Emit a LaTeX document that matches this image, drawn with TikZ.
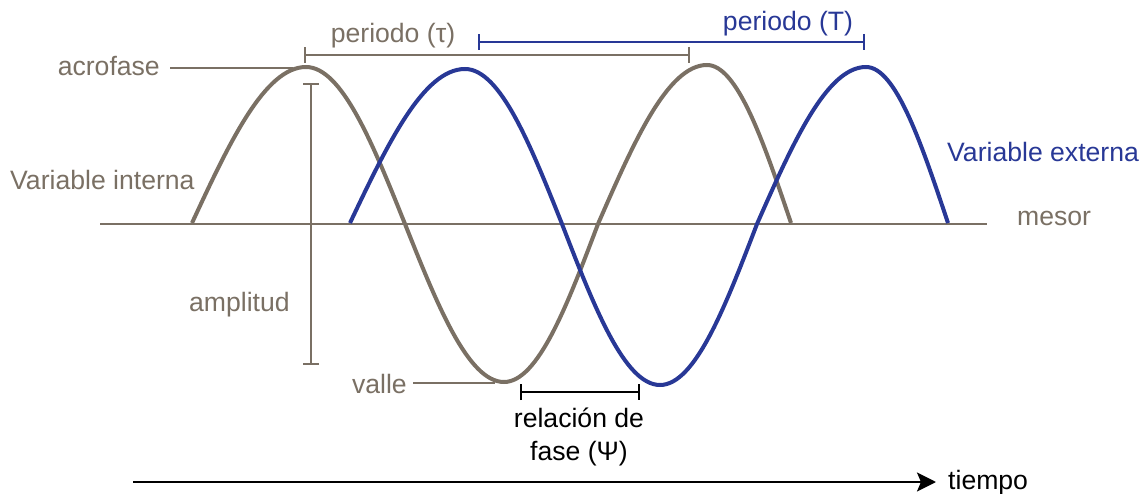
\documentclass[tikz,border=0pt]{standalone}
\usepackage{fontspec}
\setmainfont{Liberation Sans}
\usetikzlibrary{arrows.meta}
\definecolor{brn}{RGB}{122,112,100}
\definecolor{blu}{RGB}{40,56,150}
\begin{document}
\begin{tikzpicture}[x=1pt,y=-1pt,
  lbl/.style={inner sep=0pt, font=\fontsize{26.6}{30}\selectfont},
  wave/.style={line width=4pt},
  thin/.style={line width=2pt},
  brk/.style={line width=2pt, {Bar[width=16pt,line width=2pt]}-{Bar[width=16pt,line width=2pt]}}]
\useasboundingbox (0,0) rectangle (1146,494);
% mesor line
\coordinate (m0) at (100,224);
\coordinate (m1) at (987,224);
\draw[thin,brn] (m0) -- (m1);
% internal variable curve
\coordinate (b0) at (192,223);
\coordinate (b1) at (306,67);
\coordinate (b2) at (405,224);
\coordinate (b3) at (504,382);
\coordinate (b4) at (598,224);
\coordinate (b5) at (707,65);
\coordinate (b6) at (791,223);
% external variable curve
\coordinate (u0) at (350,223);
\coordinate (u1) at (465,69);
\coordinate (u2) at (562,224);
\coordinate (u3) at (660,385);
\coordinate (u4) at (757,224);
\coordinate (u5) at (866,67);
\coordinate (u6) at (948,223);
\draw[wave,brn] (b0) sin (b1) cos (b2) sin (b3) cos (b4) sin (b5) cos (b6);
\draw[wave,blu] (u0) sin (u1) cos (u2) sin (u3) cos (u4) sin (u5) cos (u6);
% labels
\node[lbl,brn,anchor=mid east] (acro) at (160,73) {acrofase};
\node[lbl,brn,anchor=mid west] (vint) at (10,187) {Variable interna};
\node[lbl,blu,anchor=mid west] (vext) at (947,159) {Variable externa};
\node[lbl,brn,anchor=mid west] (mesor) at (1017,223) {mesor};
\node[lbl,brn,anchor=mid west] (ampl) at (189,309) {amplitud};
\node[lbl,brn,anchor=mid east] (valle) at (407,391) {valle};
\node[lbl,brn,anchor=mid] (ptau) at (393,40) {periodo (τ)};
\node[lbl,blu,anchor=mid] (pT) at (788,28) {periodo (T)};
\node[lbl,anchor=mid] (rel1) at (579,425) {relación de};
\node[lbl,anchor=mid] (rel2) at (579,458) {fase (Ψ)};
\node[lbl,anchor=mid west] (tiempo) at (948,487) {tiempo};
% leaders
\coordinate (acroEnd) at (293,68);
\draw[thin,brn] (acro.east |- acroEnd) ++(10,0) -- (acroEnd);
\coordinate (valleEnd) at (495,383);
\draw[thin,brn] (valle.east |- valleEnd) ++(6,0) -- (valleEnd);
% amplitude bar
\coordinate (a0) at (311,83);
\coordinate (a1) at (311,365);
\draw[brk,brn] (a0) -- (a1);
% period brackets
\coordinate (t0) at (304,55);
\coordinate (t1) at (690,55);
\draw[brk,brn] (t0) -- (t1);
\coordinate (T0) at (478,42);
\coordinate (T1) at (865,42);
\draw[brk,blu] (T0) -- (T1);
% phase bracket
\coordinate (p0) at (520,392);
\coordinate (p1) at (640,392);
\draw[brk,black] (p0) -- (p1);
% time arrow
\coordinate (ta) at (133,482);
\coordinate (tb) at (936,482);
\draw[line width=2.5pt,-{Stealth[length=19pt,width=19pt,inset=4pt]}] (ta) -- (tb);
\end{tikzpicture}
\end{document}
